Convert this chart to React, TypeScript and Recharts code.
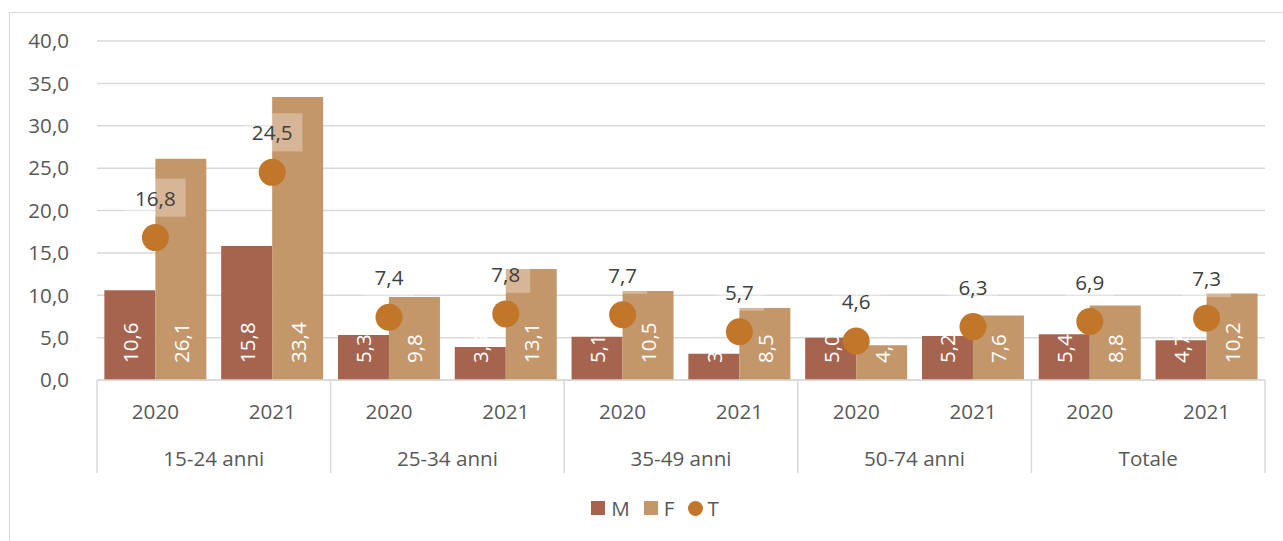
import React from 'react';
import { ComposedChart, Bar, Line, XAxis, YAxis, CartesianGrid, LabelList } from 'recharts';

const groupLabels = ['15-24 anni', '25-34 anni', '35-49 anni', '50-74 anni', 'Totale'];
const yearLabels = ['2020', '2021'];
const mValues = [10.6, 15.8, 5.3, 3.9, 5.1, 3.1, 5.0, 5.2, 5.4, 4.7];
const fValues = [26.1, 33.4, 9.8, 13.1, 10.5, 8.5, 4.1, 7.6, 8.8, 10.2];
const tValues = [16.8, 24.5, 7.4, 7.8, 7.7, 5.7, 4.6, 6.3, 6.9, 7.3];
const yTicks = [0, 5, 10, 15, 20, 25, 30, 35, 40];
const seriesNames = ['M', 'F', 'T'];

const M_COLOR = '#A6644E';
const F_COLOR = '#C4976B';
const T_COLOR = '#C1762A';
const AXIS_TEXT = '#595959';
const GRID = '#D9D9D9';
const FONT = 20.6;

type Row = { key: string; group: string; year: string; yearIdx: number; M: number; F: number; T: number };

const data: Row[] = [];
groupLabels.forEach((g, gi) => {
  yearLabels.forEach((y, yi) => {
    const i = gi * yearLabels.length + yi;
    data.push({ key: `${g} ${y}`, group: g, year: y, yearIdx: yi, M: mValues[i], F: fValues[i], T: tValues[i] });
  });
});

const fmt = (v: number) => v.toFixed(1).replace('.', ',');

const CategoryTick = (props: any) => {
  const { x, y, payload } = props;
  const row = data.find((d) => d.key === payload.value);
  if (!row) return null;
  const half = payload.offset ?? 0;
  const isFirst = row.yearIdx === 0;
  const isLast = row.key === data[data.length - 1].key;
  return (
    <g>
      <text x={x} y={y + 31} textAnchor="middle" dominantBaseline="central" fill={AXIS_TEXT} fontSize={FONT}>
        {row.year}
      </text>
      {isFirst && (
        <>
          <line x1={x - half} x2={x - half} y1={y} y2={y + 93} stroke={GRID} strokeWidth={1.5} />
          <text x={x + half} y={y + 78} textAnchor="middle" dominantBaseline="central" fill={AXIS_TEXT} fontSize={FONT}>
            {row.group}
          </text>
        </>
      )}
      {isLast && <line x1={x + half} x2={x + half} y1={y} y2={y + 93} stroke={GRID} strokeWidth={1.5} />}
    </g>
  );
};

const BarValueLabel = (props: any) => {
  const { x, y, width, height, value } = props;
  const cx = Number(x) + Number(width) / 2;
  const by = Number(y) + Number(height) - 17;
  return (
    <text
      x={cx}
      y={by}
      transform={`rotate(-90 ${cx} ${by})`}
      textAnchor="start"
      dominantBaseline="central"
      fill="#FFFFFF"
      fontSize={FONT}
    >
      {fmt(Number(value))}
    </text>
  );
};

const TLabel = (props: any) => {
  const { x, y, value } = props;
  const s = fmt(Number(value));
  let tw = 0;
  for (const ch of s) tw += ch === ',' ? 5.4 : 11.7;
  const w = tw + 20;
  const cy = Number(y) - 40;
  return (
    <g>
      <rect x={Number(x) - w / 2} y={cy - 19} width={w} height={38} fill="#FFFFFF" fillOpacity={0.3} />
      <text x={x} y={cy} textAnchor="middle" dominantBaseline="central" fill="#404040" fontSize={FONT}>
        {s}
      </text>
    </g>
  );
};

const legendColors = [M_COLOR, F_COLOR, T_COLOR];

export default function App() {
  return (
    <div
      style={{
        position: 'absolute',
        left: 0,
        top: 0,
        width: 1283,
        height: 541,
        overflow: 'hidden',
        background: '#FFFFFF',
        fontFamily: '"Open Sans", sans-serif',
      }}
    >
      <div
        style={{
          position: 'absolute',
          left: 9,
          top: 12,
          width: 1300,
          height: 600,
          border: `1px solid ${GRID}`,
          boxSizing: 'border-box',
        }}
      />
      <div style={{ position: 'absolute', left: 0, top: 0 }}>
        <ComposedChart
          width={1283}
          height={541}
          data={data}
          margin={{ top: 41, right: 18, bottom: 61, left: 0 }}
          barCategoryGap="6.3%"
          barGap={0}
        >
          <CartesianGrid vertical={false} stroke={GRID} strokeWidth={1.5} />
          <XAxis
            dataKey="key"
            interval={0}
            height={100}
            tickSize={0}
            tickMargin={0}
            tickLine={false}
            axisLine={{ stroke: GRID, strokeWidth: 1.5 }}
            tick={<CategoryTick />}
          />
          <YAxis
            domain={[0, 40]}
            ticks={yTicks}
            width={97}
            axisLine={false}
            tickLine={false}
            tickSize={0}
            tickMargin={28}
            tickFormatter={(v: number) => fmt(v)}
            tick={{ fill: AXIS_TEXT, fontSize: FONT }}
          />
          <Bar dataKey="M" name={seriesNames[0]} fill={M_COLOR} isAnimationActive={false}>
            <LabelList dataKey="M" content={<BarValueLabel />} />
          </Bar>
          <Bar dataKey="F" name={seriesNames[1]} fill={F_COLOR} isAnimationActive={false}>
            <LabelList dataKey="F" content={<BarValueLabel />} />
          </Bar>
          <Line
            dataKey="T"
            name={seriesNames[2]}
            stroke="none"
            strokeWidth={0}
            dot={{ r: 13.5, fill: T_COLOR, stroke: 'none', strokeWidth: 0 }}
            activeDot={false}
            isAnimationActive={false}
          >
            <LabelList dataKey="T" content={<TLabel />} />
          </Line>
        </ComposedChart>
      </div>
      <div
        style={{
          position: 'absolute',
          left: 9,
          width: 1292,
          top: 494,
          height: 28,
          display: 'flex',
          justifyContent: 'center',
          alignItems: 'center',
          fontSize: FONT,
          color: AXIS_TEXT,
        }}
      >
        {seriesNames.map((n, i) => (
          <div key={n} style={{ display: 'flex', alignItems: 'center', marginRight: i < 2 ? 14 : 0 }}>
            <span
              style={{
                display: 'inline-block',
                width: i === 2 ? 15 : 14,
                height: i === 2 ? 15 : 14,
                borderRadius: i === 2 ? '50%' : 0,
                background: legendColors[i],
                marginRight: i === 2 ? 4 : 6,
              }}
            />
            <span>{n}</span>
          </div>
        ))}
      </div>
    </div>
  );
}
